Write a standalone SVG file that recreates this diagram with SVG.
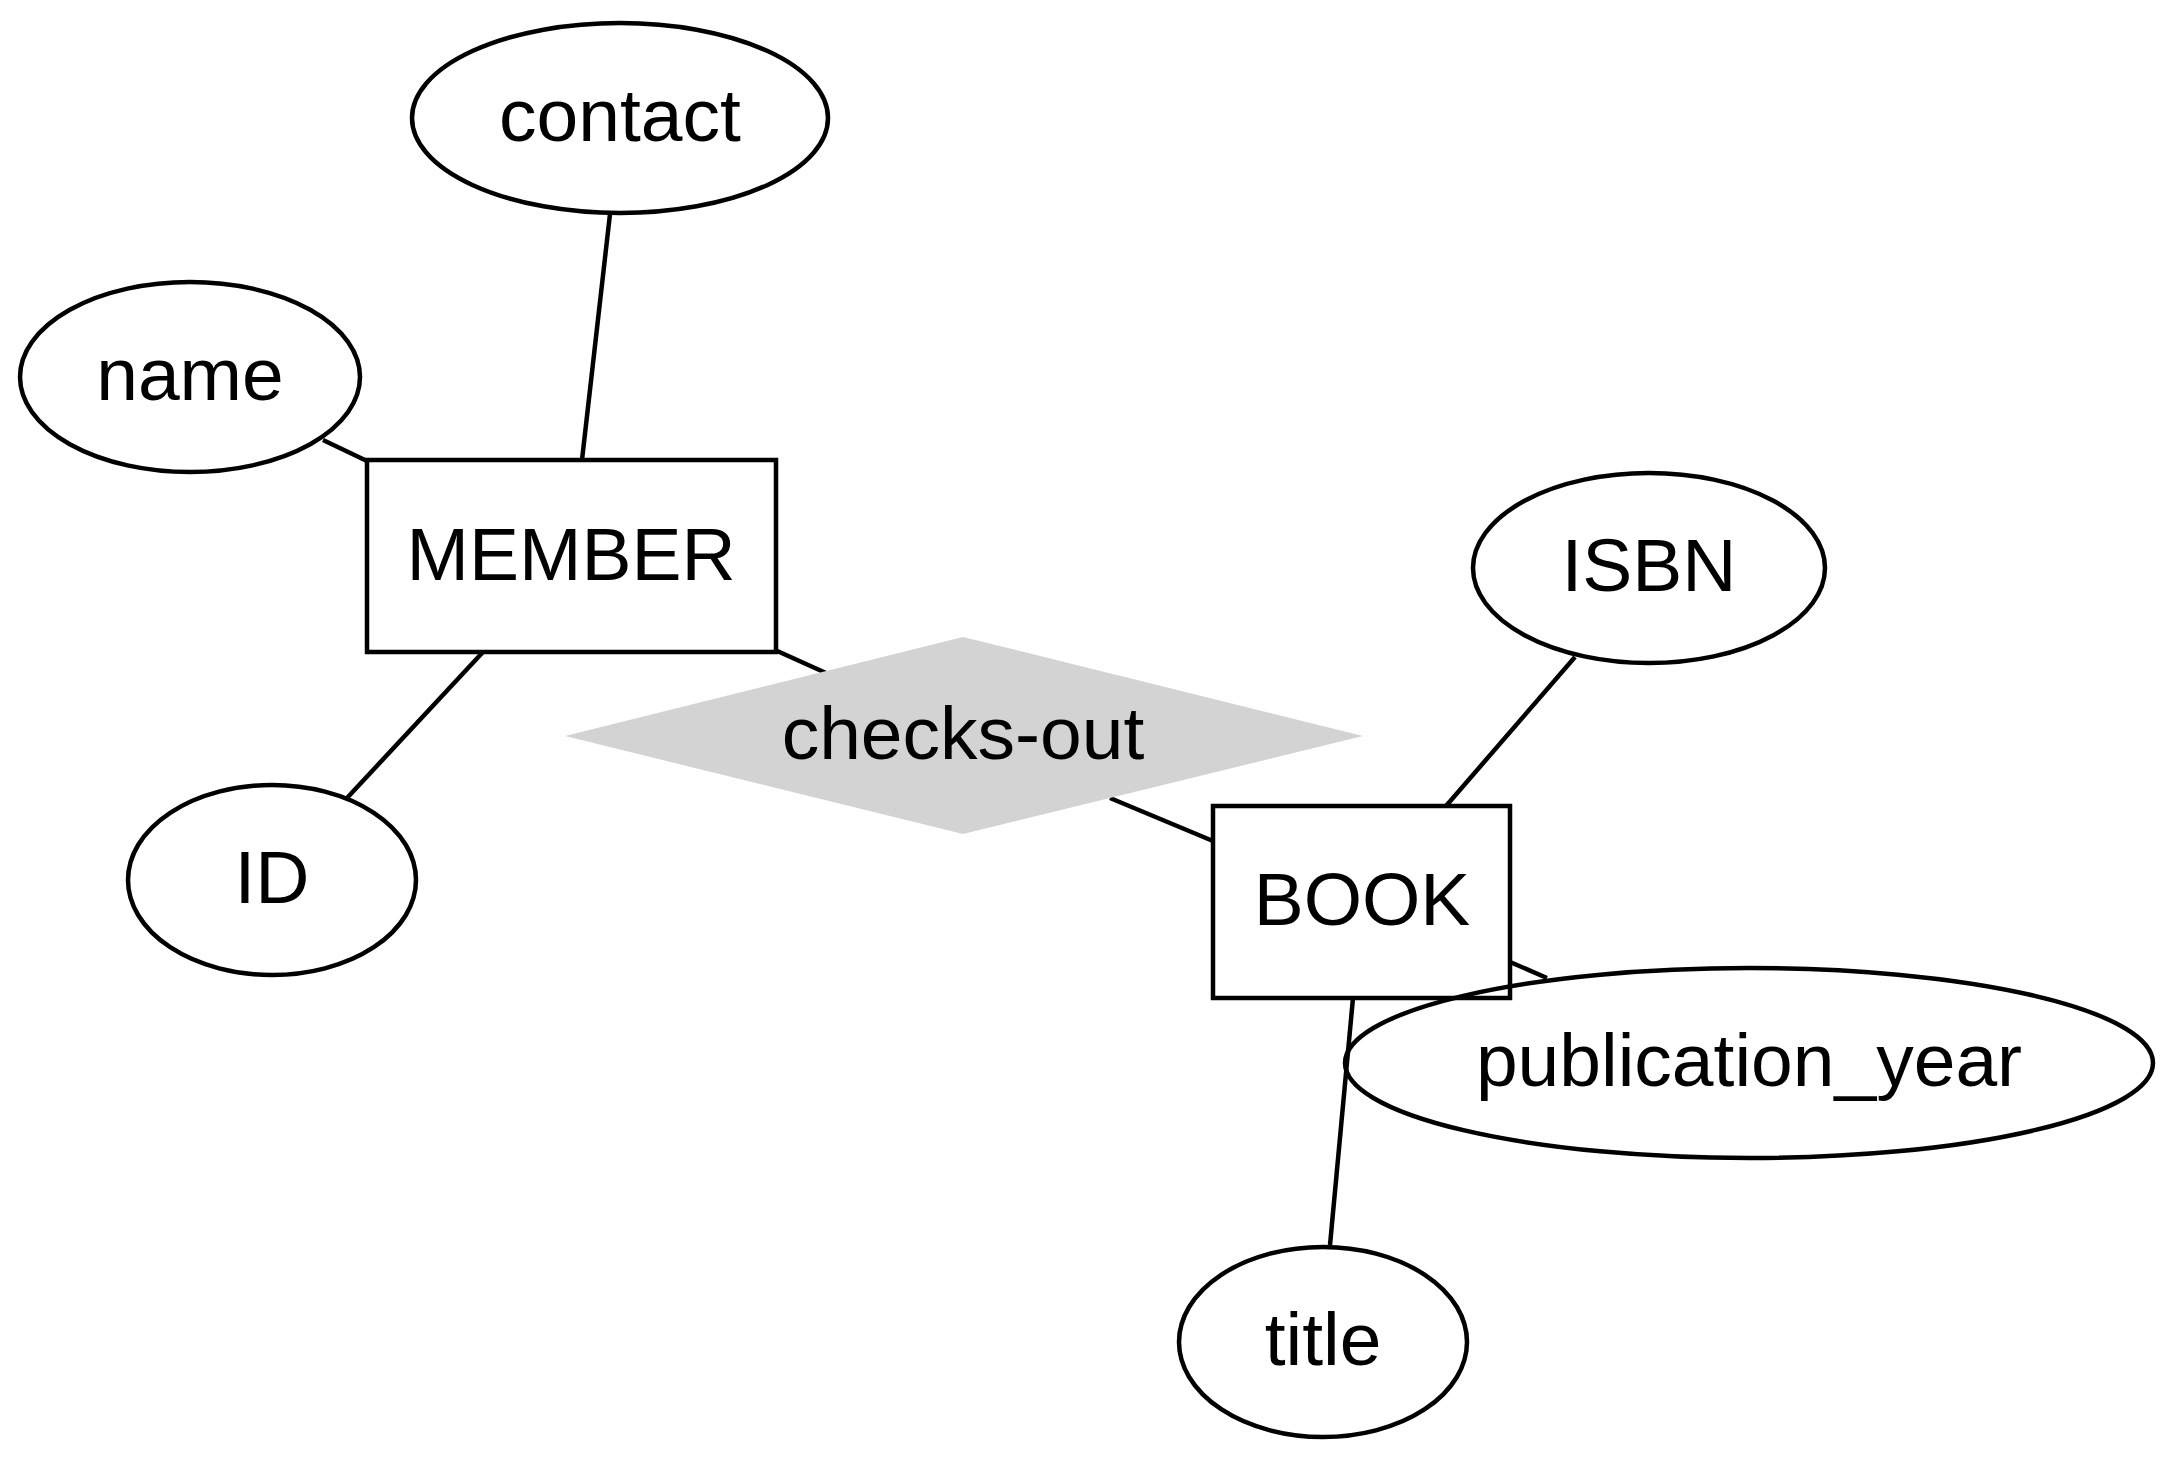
<svg xmlns="http://www.w3.org/2000/svg" width="2176" height="1460" viewBox="0 0 2176 1460">
<style>
.e{fill:none;stroke:#000;stroke-width:4.5}
.r{fill:none;stroke:#000;stroke-width:4.5}
.d{fill:#d3d3d3;stroke:none}
.c line{stroke:#000;stroke-width:4.5}
text{font-family:"Liberation Sans",Arial,sans-serif;font-size:75px;text-anchor:middle;fill:#000}
</style>
<rect width="2176" height="1460" fill="#fff"/>
<g class="c" id="connectors">
<line x1="610" y1="214" x2="582" y2="460"/>
<line x1="323" y1="440" x2="367" y2="461"/>
<line x1="483" y1="652" x2="347" y2="798"/>
<line x1="775" y1="650" x2="826" y2="673"/>
<line x1="1110" y1="798" x2="1213" y2="841"/>
<line x1="1575" y1="657" x2="1446" y2="806"/>
<line x1="1510" y1="962" x2="1547" y2="978"/>
<line x1="1353" y1="998" x2="1330" y2="1245"/>
</g>
<g id="contact"><ellipse class="e" cx="620" cy="118" rx="208" ry="95"/><text x="620" y="141">contact</text></g>
<g id="name"><ellipse class="e" cx="190" cy="377" rx="170" ry="95"/><text x="190" y="400">name</text></g>
<g id="id"><ellipse class="e" cx="272" cy="880" rx="144" ry="95"/><text x="272" y="903">ID</text></g>
<g id="member"><rect class="r" x="367" y="460" width="409" height="192"/><text x="571" y="580">MEMBER</text></g>
<g id="checks-out"><polygon class="d" points="963,637 1363,736 963,834 565,736"/><text x="963" y="759">checks-out</text></g>
<g id="book"><rect class="r" x="1213" y="806" width="297" height="192"/><text x="1362" y="925">BOOK</text></g>
<g id="isbn"><ellipse class="e" cx="1649" cy="568" rx="176" ry="95"/><text x="1649" y="591">ISBN</text></g>
<g id="publication_year"><ellipse class="e" cx="1749" cy="1063" rx="404" ry="95"/><text x="1749" y="1086">publication_year</text></g>
<g id="title"><ellipse class="e" cx="1323" cy="1342" rx="144" ry="95"/><text x="1323" y="1365">title</text></g>
</svg>
